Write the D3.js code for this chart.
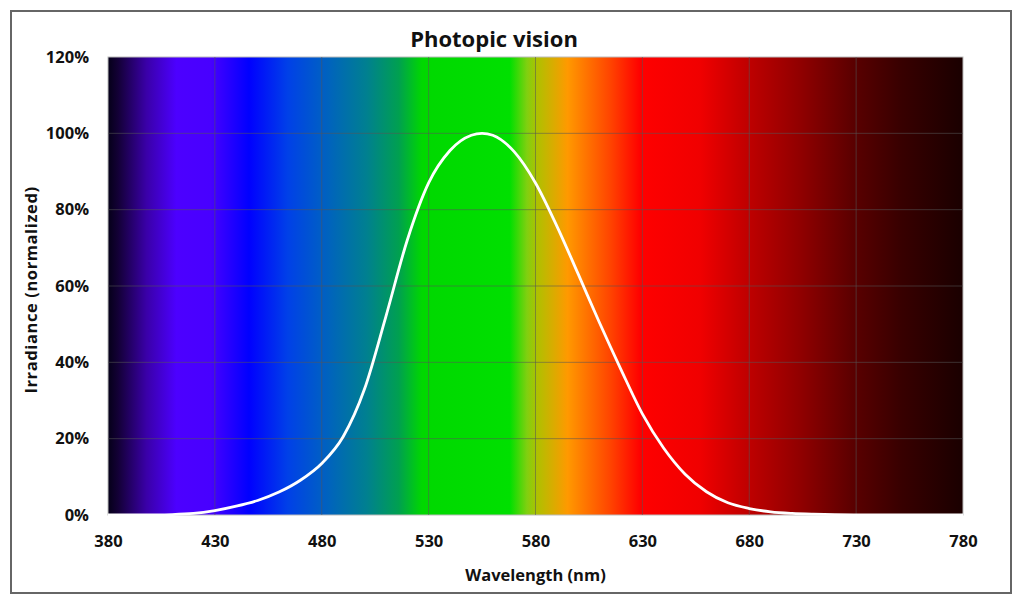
<!DOCTYPE html>
<html>
<head>
<meta charset="utf-8">
<script src="https://d3js.org/d3.v7.min.js"></script>
<style>
  body { margin: 0; background: #fff; }
  text { font-family: "Open Sans", "Segoe UI", sans-serif; font-weight: bold; fill: #111; }
</style>
</head>
<body>
<div id="chart"></div>
<script>
// Photopic luminosity curve (wavelength in nm, normalized irradiance)
var wavelengths = [380, 390, 400, 410, 420, 430, 440, 450, 460, 470, 480, 490, 500, 510, 520, 530, 540, 550, 555,
  560, 570, 580, 590, 600, 610, 620, 630, 640, 650, 660, 670, 680, 690, 700, 710, 720, 730, 740, 750, 760, 770, 780];
var irradiance = [0, 0.0001, 0.0004, 0.0012, 0.004, 0.0116, 0.023, 0.038, 0.06, 0.091, 0.135, 0.205, 0.33, 0.52, 0.72, 0.87, 0.955, 0.995, 1.0,
  0.995, 0.952, 0.87, 0.757, 0.631, 0.503, 0.381, 0.265, 0.175, 0.107, 0.061, 0.032, 0.017, 0.0082, 0.0041, 0.0021, 0.001, 0.0005, 0.00025, 0.00012, 0.00006, 0.00003, 0.000015];

// spectrum background colour stops
var stopWavelengths = [380, 385, 398, 412, 428, 446, 464, 479, 501, 516, 527, 568, 576, 581, 595, 615, 629, 657, 679, 704, 729, 751, 780];
var stopColors = ["#050018", "#140038", "#3a00a8", "#4c00ff", "#4800ff", "#0000ff", "#0040e8", "#005cc8", "#008090", "#00a050", "#00d800",
  "#00e000", "#80d010", "#b0c000", "#ff9900", "#ff4400", "#ff0000", "#f00000", "#c00000", "#900000", "#5a0000", "#380000", "#1a0000"];

var xTicks = [380, 430, 480, 530, 580, 630, 680, 730, 780];
var yTicks = [0, 0.2, 0.4, 0.6, 0.8, 1.0, 1.2];

var svgWidth = 1024;
var svgHeight = 607;
var margin = { top: 57, right: 61, bottom: 92, left: 108 };
var width = svgWidth - margin.left - margin.right;
var height = svgHeight - margin.top - margin.bottom;

var svg = d3.select("#chart").append("svg")
  .attr("width", svgWidth)
  .attr("height", svgHeight);

// outer frame
svg.append("rect")
  .attr("x", 11).attr("y", 11)
  .attr("width", 1000).attr("height", 582)
  .attr("fill", "#fff")
  .attr("stroke", "#666")
  .attr("stroke-width", 2);

var chartGroup = svg.append("g")
  .attr("transform", `translate(${margin.left}, ${margin.top})`);

// scales
var xScale = d3.scaleLinear().domain([380, 780]).range([0, width]);
var yScale = d3.scaleLinear().domain([0, 1.2]).range([height, 0]);

// spectrum gradient
var grad = svg.append("defs").append("linearGradient")
  .attr("id", "spectrum")
  .attr("gradientUnits", "userSpaceOnUse")
  .attr("x1", xScale(380)).attr("x2", xScale(780))
  .attr("y1", 0).attr("y2", 0);

grad.selectAll("stop")
  .data(stopWavelengths)
  .join("stop")
  .attr("offset", d => (xScale(d) / width))
  .attr("stop-color", (d, i) => stopColors[i]);

chartGroup.append("rect")
  .attr("width", width)
  .attr("height", height)
  .attr("fill", "url(#spectrum)")
  .attr("stroke", "#bbb")
  .attr("stroke-width", 1);

// gridlines
chartGroup.selectAll(".hgrid")
  .data(yTicks.slice(1, -1))
  .join("line")
  .attr("x1", 0).attr("x2", width)
  .attr("y1", d => yScale(d)).attr("y2", d => yScale(d))
  .attr("stroke", "#555")
  .attr("stroke-opacity", 0.55)
  .attr("stroke-width", 1);

chartGroup.selectAll(".vgrid")
  .data(xTicks.slice(1, -1))
  .join("line")
  .attr("x1", d => xScale(d)).attr("x2", d => xScale(d))
  .attr("y1", 0).attr("y2", height)
  .attr("stroke", "#555")
  .attr("stroke-opacity", 0.55)
  .attr("stroke-width", 1);

// curve
var points = wavelengths.map((w, i) => [w, irradiance[i]]);
var line = d3.line()
  .x(d => xScale(d[0]))
  .y(d => yScale(d[1]))
  .curve(d3.curveMonotoneX);

chartGroup.append("path")
  .datum(points)
  .attr("d", line)
  .attr("fill", "none")
  .attr("stroke", "#fff")
  .attr("stroke-width", 2.8);

// axes
var bottomAxis = d3.axisBottom(xScale).tickValues(xTicks).tickSize(0).tickPadding(20);
var leftAxis = d3.axisLeft(yScale).tickValues(yTicks).tickSize(0).tickPadding(19)
  .tickFormat(d3.format(".0%"));

var gx = chartGroup.append("g")
  .attr("transform", `translate(0, ${height})`)
  .call(bottomAxis);
var gy = chartGroup.append("g").call(leftAxis);

[gx, gy].forEach(g => {
  g.select(".domain").remove();
  g.selectAll("text")
    .attr("font-family", "'Open Sans', sans-serif")
    .attr("font-weight", "bold")
    .attr("font-size", 16.5)
    .attr("fill", "#111");
});

// titles
svg.append("text")
  .attr("x", 494)
  .attr("y", 47)
  .attr("text-anchor", "middle")
  .attr("font-size", 22)
  .text("Photopic vision");

svg.append("text")
  .attr("x", margin.left + width / 2)
  .attr("y", 581)
  .attr("text-anchor", "middle")
  .attr("font-size", 16.5)
  .text("Wavelength (nm)");

svg.append("text")
  .attr("transform", "rotate(-90)")
  .attr("x", -290)
  .attr("y", 37)
  .attr("text-anchor", "middle")
  .attr("font-size", 16.5)
  .attr("letter-spacing", 0.6)
  .text("Irradiance (normalized)");
</script>
</body>
</html>
